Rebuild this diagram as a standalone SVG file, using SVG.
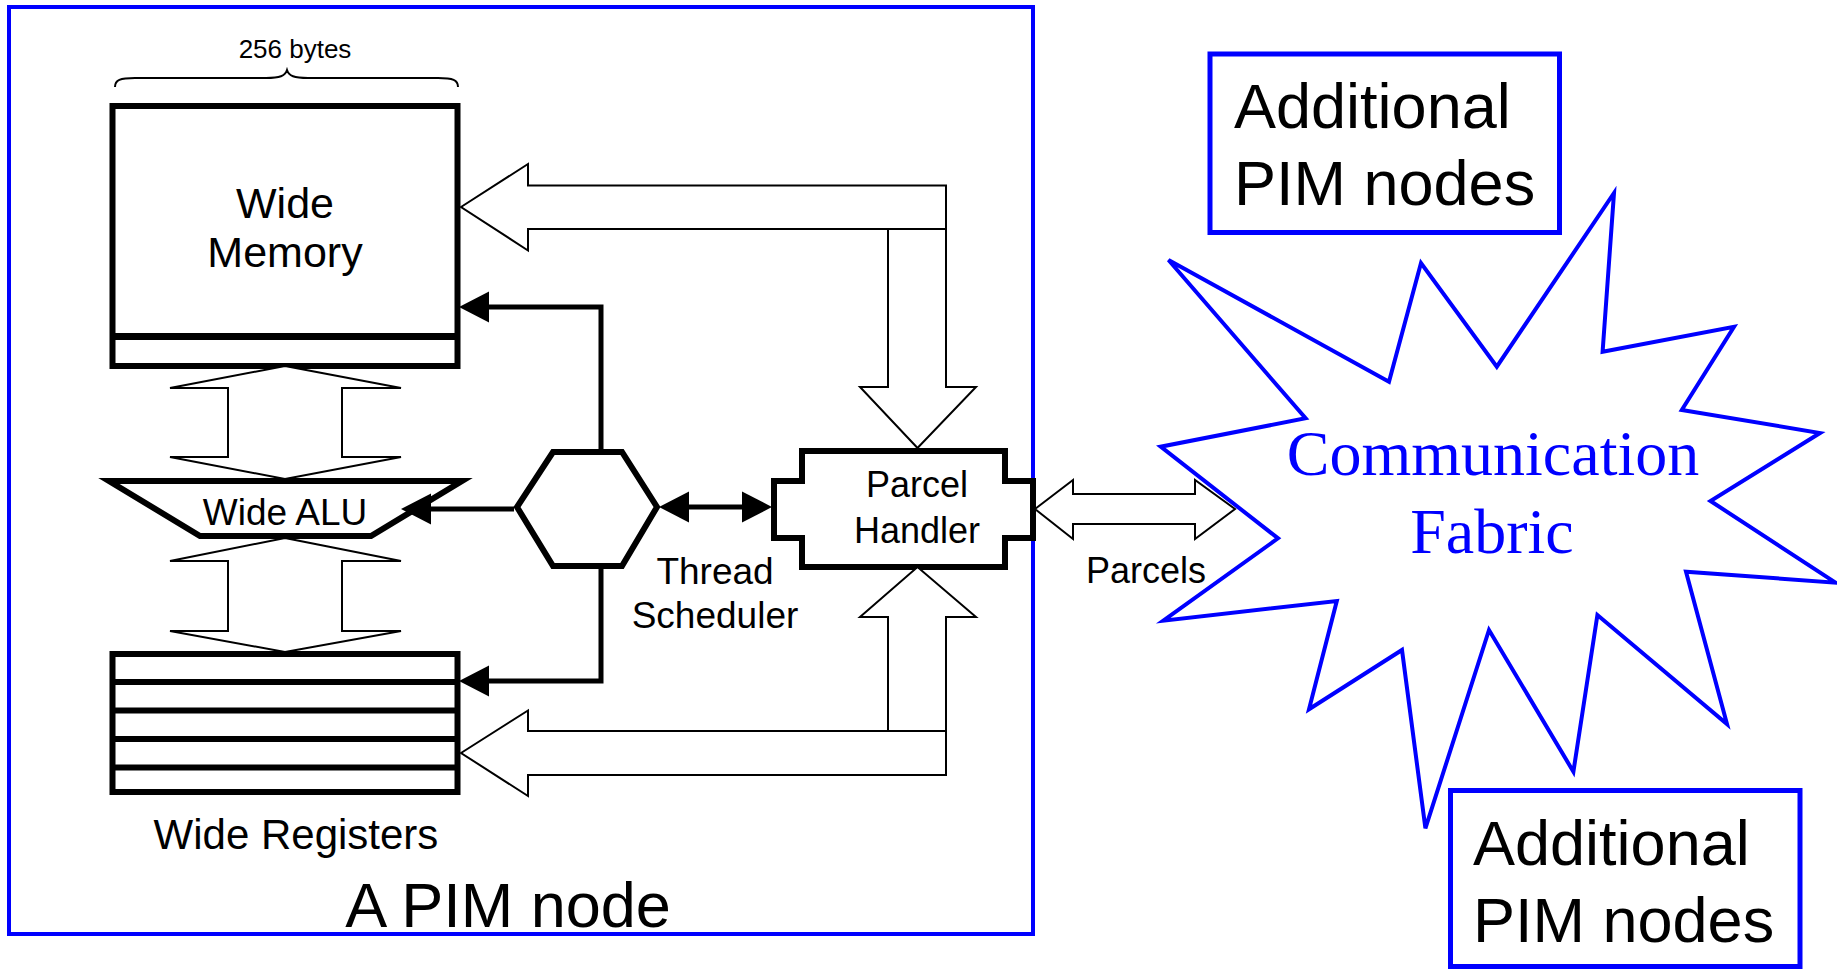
<svg xmlns="http://www.w3.org/2000/svg" width="1837" height="970" viewBox="0 0 1837 970">
<style>
.thick{fill:#fff;stroke:#000;stroke-width:6;stroke-linejoin:miter;stroke-miterlimit:6}
.thin{fill:#fff;stroke:#000;stroke-width:2;stroke-linejoin:miter;stroke-miterlimit:10}
.line{fill:none;stroke:#000;stroke-width:2}
.bar{fill:none;stroke:#000;stroke-width:6}
.conn{fill:none;stroke:#000;stroke-width:5;stroke-linejoin:miter}
.blue{fill:none;stroke:#0000ff;stroke-width:4}
.bluebox{fill:#fff;stroke:#0000ff;stroke-width:5}
.t{font-family:"Liberation Sans",Arial,sans-serif;fill:#000}
.c{text-anchor:middle}
.serif{font-family:"Liberation Serif","Times New Roman",serif;fill:#0000ff;text-anchor:middle}
</style>
<defs>
<marker id="ah" markerUnits="userSpaceOnUse" markerWidth="30" markerHeight="32" viewBox="0 0 29 30" refX="0" refY="15" orient="auto-start-reverse">
<path d="M0,0 L29,15 L0,30 Z" fill="#000"/>
</marker>
</defs>
<rect width="1837" height="970" fill="#fff"/>

<g id="pim-node">
<rect class="blue" x="9" y="7" width="1024" height="927"/>
<text class="t c" x="508" y="927" font-size="63">A PIM node</text>
</g>

<g id="wide-memory">
<text class="t c" x="295" y="58" font-size="26">256 bytes</text>
<path class="line" d="M115,87 C115,80 120,78 135,78 L266,78 C280,78 285,76 287,70 C289,76 294,78 308,78 L438,78 C453,78 458,80 458,87"/>
<rect class="thick" x="112.5" y="106" width="345" height="260"/>
<line x1="112.5" y1="336.5" x2="457.5" y2="336.5" stroke="#000" stroke-width="7"/>
<text class="t c" x="285" y="218" font-size="43">Wide</text>
<text class="t c" x="285" y="267" font-size="43">Memory</text>
</g>

<g id="wide-alu">
<polygon class="thick" points="109,481 462,481 371,536 200,536"/>
<text class="t c" x="285" y="525" font-size="37">Wide ALU</text>
</g>

<g id="wide-registers">
<rect class="thick" x="112.5" y="654" width="345" height="138"/>
<line class="bar" x1="112.5" y1="682" x2="457.5" y2="682"/>
<line class="bar" x1="112.5" y1="710.5" x2="457.5" y2="710.5"/>
<line class="bar" x1="112.5" y1="739" x2="457.5" y2="739"/>
<line class="bar" x1="112.5" y1="767.5" x2="457.5" y2="767.5"/>
<text class="t c" x="296" y="849" font-size="42">Wide Registers</text>
</g>

<g id="thread-scheduler">
<polygon class="thick" points="553,452 622,452 657,507 622,566 553,566 517,507"/>
<text class="t c" x="715" y="584" font-size="37">Thread</text>
<text class="t c" x="715" y="628" font-size="37">Scheduler</text>
</g>

<g id="parcel-handler">
<polygon class="thick" points="802,451 1005,451 1005,481 1033,481 1033,538 1005,538 1005,567 802,567 802,538 774,538 774,481 802,481"/>
<text class="t c" x="917" y="497" font-size="36">Parcel</text>
<text class="t c" x="917" y="543" font-size="36">Handler</text>
</g>

<g id="communication-fabric">
<polygon class="blue" fill="#fff" points="1168.5,260 1389,381.7 1421,263 1496.8,366.7 1614,193 1602.6,351.7 1734,326.7 1681.8,410 1820,433 1710.5,501 1835.5,582.7 1686,571.7 1727,724 1597.4,615 1573.4,771.7 1489,630 1425.4,828.3 1402,650 1309,709.3 1336.8,601 1163.3,620.7 1278,538.3 1160.7,446.7 1305.6,418.3"/>
<text class="serif" x="1493" y="475" font-size="64">Communication</text>
<text class="serif" x="1492" y="553" font-size="64">Fabric</text>
</g>

<g id="additional-top">
<rect class="bluebox" x="1210" y="54" width="349.5" height="178.5"/>
<text class="t" x="1234" y="128" font-size="63">Additional</text>
<text class="t" x="1234" y="205" font-size="63">PIM nodes</text>
</g>

<g id="additional-bottom">
<rect class="bluebox" x="1450.5" y="790.5" width="349.5" height="176"/>
<text class="t" x="1473" y="865" font-size="63">Additional</text>
<text class="t" x="1473" y="942" font-size="63">PIM nodes</text>
</g>

<g id="connectors">
<polygon class="thin" points="285,366 401,388 342,388 342,457 401,457 285,479 170,457 228,457 228,388 170,388"/>
<polygon class="thin" points="285,538 401,561 342,561 342,631 401,631 285,652 170,631 228,631 228,561 170,561"/>
<polygon class="thin" points="461,207 528,164 528,185.5 946,185.5 946,387 976,387 917.5,448 860,387 888,387 888,229 528,229 528,250.5"/>
<line class="line" x1="888" y1="229" x2="946" y2="229"/>
<polygon class="thin" points="461,753 528,710.5 528,731 888,731 888,617 860,617 917.5,567 976,617 946,617 946,775 528,775 528,796"/>
<line class="line" x1="888" y1="731" x2="946" y2="731"/>
<polygon class="thin" points="1035,509 1073,480 1073,494 1195,494 1195,480 1235,509 1195,539 1195,524 1073,524 1073,539"/>
<path class="conn" d="M601,449 L601,307 L489,307" marker-end="url(#ah)"/>
<path class="conn" d="M601,569 L601,681 L489,681" marker-end="url(#ah)"/>
<path class="conn" d="M514,509 L431,509" marker-end="url(#ah)"/>
<path class="conn" d="M689,507 L742,507" marker-start="url(#ah)" marker-end="url(#ah)"/>
<text class="t" x="1086" y="583" font-size="36">Parcels</text>
</g>
</svg>
